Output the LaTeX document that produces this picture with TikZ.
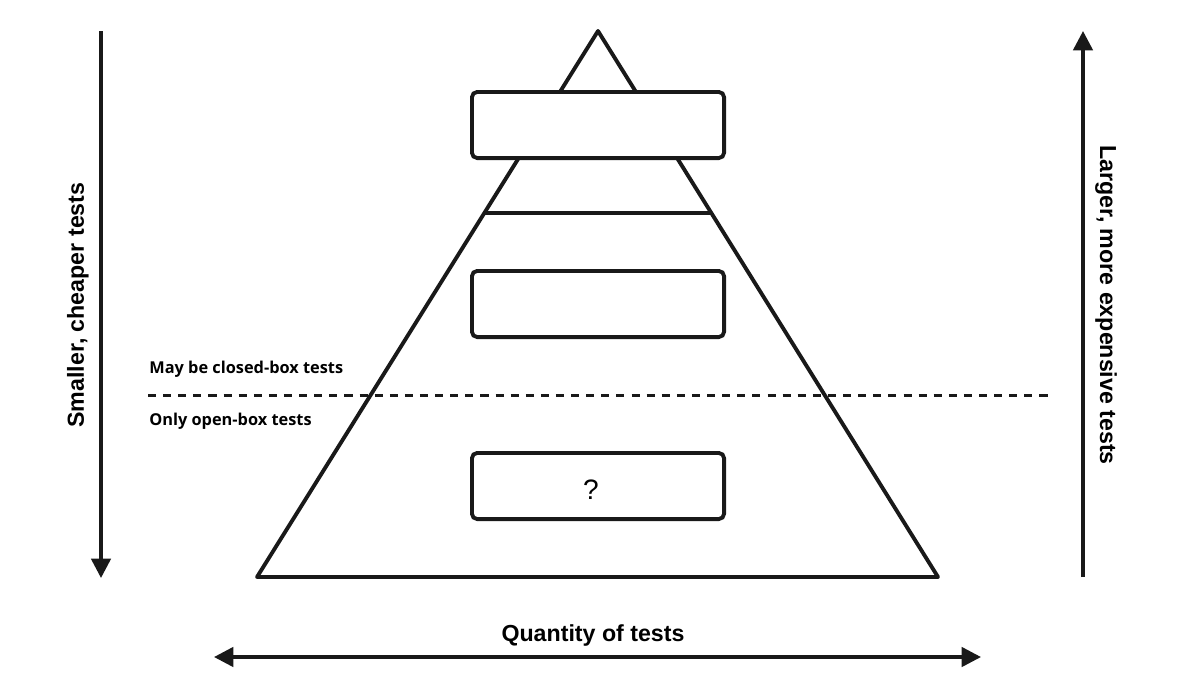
\documentclass[tikz,border=0pt]{standalone}
\usepackage{fontspec}
\setmainfont{Liberation Sans}
\newfontfamily\opensans{Open Sans}
\usetikzlibrary{arrows.meta}
\begin{document}
\begin{tikzpicture}[x=0.02cm,y=-0.02cm,
  shape line/.style={line width=2.2pt,black!90,line join=round},
  tierbox/.style={draw=black!90,line width=2.2pt,fill=white,rounded corners=3pt,minimum width=256*0.02cm-2.2pt,minimum height=70*0.02cm-2.2pt,inner sep=0pt},
  axis/.style={line width=2pt,black!90,-{Triangle[length=11pt,width=11pt]}},
  bigtext/.style={font=\bfseries\fontsize{13.2}{15}\selectfont},
  smalltext/.style={font=\opensans\bfseries\fontsize{9.3}{11}\selectfont,anchor=west,inner sep=0pt}]
\useasboundingbox (0,0) rectangle (1186,690);
% pyramid
\coordinate (apex) at (598,31);
\coordinate (bl) at (257,577);
\coordinate (br) at (938,577);
\draw[shape line] (apex) -- (bl) -- (br) -- cycle;
\coordinate (hl) at (484.3,213);
\coordinate (hr) at (711.3,213);
\draw[shape line] (hl) -- (hr);
% dashed line
\coordinate (dl) at (148,395);
\coordinate (dr) at (1048,395);
\draw[line width=1.7pt,black!90,dash pattern=on 4.6pt off 4pt] (dl) -- (dr);
% boxes
\node[tierbox] (top) at (598,125) {};
\node[tierbox] (mid) at (598,304) {};
\node[tierbox] (bot) at (598,486) {};
\node[font=\fontsize{16}{18}\selectfont,inner sep=0pt] (q) at (591,490) {?};
% labels
\node[smalltext] (closed) at (149,369) {May be closed-box tests};
\node[smalltext] (open) at (149,421) {Only open-box tests};
% side arrows
\coordinate (lt) at (101,31);
\coordinate (lb) at (101,578);
\draw[axis] (lt) -- (lb);
\node[bigtext,rotate=90] (smaller) at (78,305) {Smaller, cheaper tests};
\coordinate (rb) at (1083,577);
\coordinate (rt) at (1083,31);
\draw[axis] (rb) -- (rt);
\node[bigtext,rotate=-90] (larger) at (1106,305) {Larger, more expensive tests};
% bottom arrow
\coordinate (ql) at (214,657);
\coordinate (qr) at (981,657);
\draw[axis,{Triangle[length=11pt,width=11pt]}-{Triangle[length=11pt,width=11pt]}] (ql) -- (qr);
\node[bigtext] (qty) at (593,635) {Quantity of tests};
\end{tikzpicture}
\end{document}
